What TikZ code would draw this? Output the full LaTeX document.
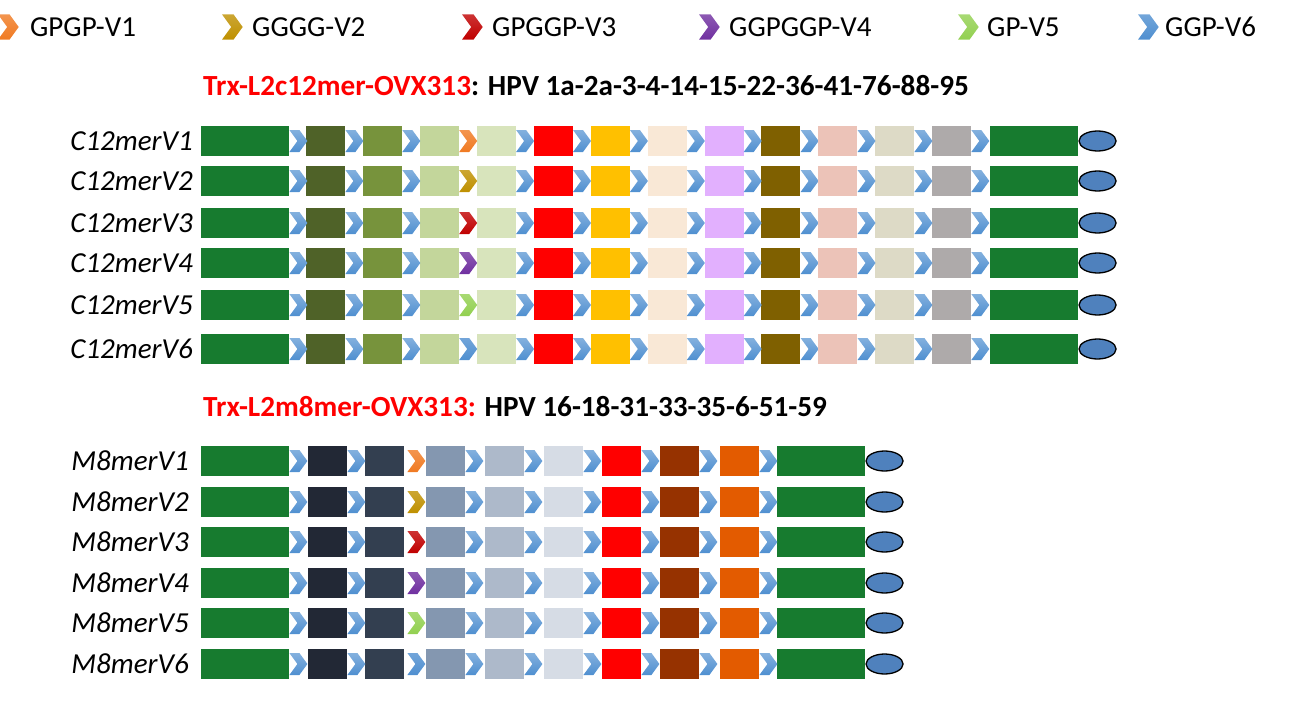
\documentclass[tikz,border=0pt]{standalone}
\usepackage{fontspec}
\setmainfont{Carlito}
\usetikzlibrary{shapes.geometric}
\definecolor{cgreen}{HTML}{177B2F}
\definecolor{cell}{HTML}{4F81BD}
\definecolor{corange}{HTML}{F07A22}
\definecolor{cgold}{HTML}{BF9000}
\definecolor{cred}{HTML}{C00000}
\definecolor{cpurple}{HTML}{7030A0}
\definecolor{clgreen}{HTML}{92D050}
\definecolor{cblue}{HTML}{4F8FD0}
\definecolor{ca1}{HTML}{4F6228}
\definecolor{ca2}{HTML}{77933C}
\definecolor{ca3}{HTML}{C3D69B}
\definecolor{ca4}{HTML}{D8E4BC}
\definecolor{ca5}{HTML}{FF0000}
\definecolor{ca6}{HTML}{FFC000}
\definecolor{ca7}{HTML}{F9E8D6}
\definecolor{ca8}{HTML}{E2B0FE}
\definecolor{ca9}{HTML}{7F6000}
\definecolor{ca10}{HTML}{ECC3B8}
\definecolor{ca11}{HTML}{DDDAC6}
\definecolor{ca12}{HTML}{AEAAAA}
\definecolor{cb1}{HTML}{222835}
\definecolor{cb2}{HTML}{333F50}
\definecolor{cb3}{HTML}{8497B0}
\definecolor{cb4}{HTML}{ADB9CA}
\definecolor{cb5}{HTML}{D6DCE5}
\definecolor{cb6}{HTML}{FF0000}
\definecolor{cb7}{HTML}{963200}
\definecolor{cb8}{HTML}{E35B00}
\tikzset{
  box/.style={rectangle, inner sep=0pt, minimum width=39, minimum height=30, draw=none, anchor=west},
  longbox/.style={box, minimum width=88, fill=cgreen},
  capnode/.style={ellipse, draw=black, line width=1.3pt, fill=cell, minimum width=37, minimum height=20, inner sep=0pt, anchor=west},
  lab/.style={font=\fontsize{29}{31}\selectfont\itshape, anchor=east, inner sep=0pt},
  ttl/.style={font=\fontsize{29.2}{31}\selectfont\bfseries, anchor=west, inner sep=0pt},
  leg/.style={font=\fontsize{29}{31}\selectfont, anchor=west, inner sep=0pt},
  chev/.pic={\path[pic actions] (0,-11) -- (10,-11) -- (18,0) -- (10,11) -- (0,11) -- (8,0) -- cycle;},
}
\begin{document}
\begin{tikzpicture}[x=1pt,y=-1pt]
\useasboundingbox (0,0) rectangle (1302,701);
% legend
\foreach \cx/\tx/\col/\txt [count=\k] in {-2/30/corange/GPGP-V1, 222/252/cgold/GGGG-V2, 462/492/cred/GPGGP-V3, 699/729/cpurple/GGPGGP-V4, 958/987/clgreen/GP-V5, 1138/1165/cblue/GGP-V6}{
  \coordinate (lg\k) at (\cx,27);
  \pic[top color=\col!80!white, bottom color=\col, scale=1.15] at (lg\k) {chev};
  \node[leg] (lt\k) at (\tx,27) {\txt};
}
% titles
\node[ttl] (t1) at (203,86) {\textcolor{red}{Trx-L2c12mer-OVX313}: HPV 1a-2a-3-4-14-15-22-36-41-76-88-95};
\node[ttl] (t2) at (203,407) {\textcolor{red}{Trx-L2m8mer-OVX313:} HPV 16-18-31-33-35-6-51-59};
% C12 rows
\foreach \r/\y/\vc in {1/141/corange, 2/181/cgold, 3/223/cred, 4/263/cpurple, 5/305/clgreen, 6/349/cblue}{
  \node[lab] (cl\r) at (193,\y) {C12merV\r};
  \node[longbox] (c\r-0) at (201,\y) {};
  \foreach \i in {1,...,12}{
    \node[box, fill=ca\i] (c\r-\i) at ({306+56.9*(\i-1)},\y) {};
  }
  \node[longbox] (c\r-13) at (990,\y) {};
  \node[capnode] (ce\r) at (c\r-13.east) {};
  \foreach \i in {0,1,2,4,5,6,7,8,9,10,11,12}{
    \pic[top color=cblue!70!white, bottom color=cblue] at (c\r-\i.east) {chev};
  }
  \pic[top color=\vc!80!white, bottom color=\vc] at (c\r-3.east) {chev};
}
% M8 rows
\foreach \r/\y/\vc in {1/461/corange, 2/502/cgold, 3/542/cred, 4/583/cpurple, 5/623/clgreen, 6/664/cblue}{
  \node[lab] (ml\r) at (189,\y) {M8merV\r};
  \node[longbox] (m\r-0) at (201,\y) {};
  \foreach \i/\xx in {1/308, 2/365, 3/426, 4/485, 5/544, 6/602, 7/660, 8/720}{
    \node[box, fill=cb\i] (m\r-\i) at (\xx,\y) {};
  }
  \node[longbox] (m\r-9) at (777,\y) {};
  \node[capnode] (me\r) at (m\r-9.east) {};
  \foreach \i in {0,1,3,4,5,6,7,8}{
    \pic[top color=cblue!70!white, bottom color=cblue] at (m\r-\i.east) {chev};
  }
  \pic[top color=\vc!80!white, bottom color=\vc, xshift=3] at (m\r-2.east) {chev};
}
\end{tikzpicture}
\end{document}
